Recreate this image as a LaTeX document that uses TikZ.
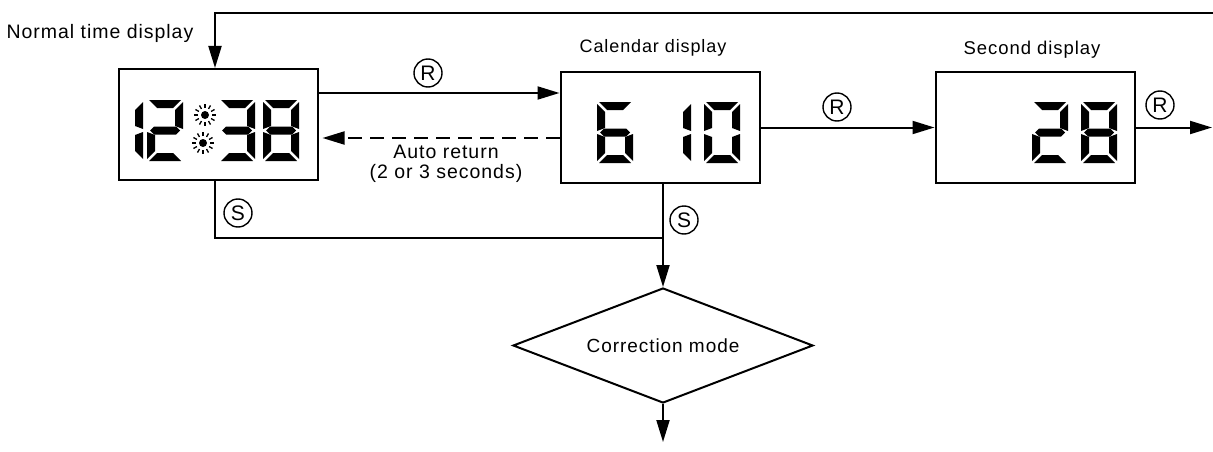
\documentclass[tikz,border=0pt]{standalone}
\usepackage{fontspec}
\setmainfont{Liberation Sans}[LetterSpace=5]
\usetikzlibrary{arrows.meta,shapes.geometric,calc}
\newcommand\sgA[2]{\fill (#1+2,#2) -- (#1+34,#2) -- (#1+26,#2+8) -- (#1+10,#2+8) -- cycle;}
\newcommand\sgD[2]{\fill (#1+2,#2+61) -- (#1+34,#2+61) -- (#1+26,#2+53) -- (#1+10,#2+53) -- cycle;}
\newcommand\sgG[2]{\fill (#1+3,#2+30.5) -- (#1+7,#2+26.5) -- (#1+29,#2+26.5) -- (#1+33,#2+30.5) -- (#1+29,#2+34.5) -- (#1+7,#2+34.5) -- cycle;}
\newcommand\sgF[2]{\fill (#1,#2+2) -- (#1+8,#2+10) -- (#1+8,#2+26) -- (#1,#2+29) -- cycle;}
\newcommand\sgB[2]{\fill (#1+36,#2+2) -- (#1+28,#2+10) -- (#1+28,#2+26) -- (#1+36,#2+29) -- cycle;}
\newcommand\sgE[2]{\fill (#1,#2+32) -- (#1+8,#2+35) -- (#1+8,#2+51) -- (#1,#2+59) -- cycle;}
\newcommand\sgC[2]{\fill (#1+36,#2+32) -- (#1+28,#2+35) -- (#1+28,#2+51) -- (#1+36,#2+59) -- cycle;}
\newcommand\segdigit[3]{\foreach \s in {#3}{\csname sg\s\endcsname{#1}{#2}}}
\newcommand\blinkdot[2]{\fill (#1,#2) circle (4);
  \foreach \a in {0,30,...,330}{\draw[line width=1.3pt] ($(#1,#2)+(\a:7)$) -- ($(#1,#2)+(\a:11)$);}}
\begin{document}
\begin{tikzpicture}[x=1pt,y=-1pt,
  every node/.style={font=\fontsize{18}{22}\selectfont},
  conn/.style={line width=2pt},
  arr/.style={conn,-{Triangle[length=22pt,width=13pt]}},
  disp/.style={draw,line width=2pt,minimum width=199pt,minimum height=111pt,inner sep=0pt},
  circ/.style={circle,draw,line width=1.4pt,inner sep=0pt,minimum size=28pt,font=\fontsize{21}{22}\selectfont}]
\useasboundingbox (0,0) rectangle (1213,452);
% boxes
\node[disp] (b1) at (218,124.5) {};
\node[disp] (cal) at (660,127.5) {};
\node[disp] (sec) at (1035,127.5) {};
\node[diamond,draw,line width=2pt,aspect=2.6,minimum width=300pt,minimum height=115pt,inner sep=0pt,font=\fontsize{19}{22}\selectfont] (cm) at (663,345.5) {Correction mode};
% labels
\node[anchor=west,font=\fontsize{19.5}{22}\selectfont] (lb1) at (3,33) {Normal time display};
\node (lcal) at (653,48) {Calendar display};
\node[font=\fontsize{18.5}{22}\selectfont] (lsec) at (1032,50) {Second display};
\node[align=center,font=\fontsize{19.5}{20}\selectfont] (auto) at (446,164) {Auto return\\(2 or 3 seconds)};
\node[circ] (r1) at (428,73) {R};
\node[circ] (r2) at (837,107) {R};
\node[circ] (r3) at (1160,105) {R};
\node[circ] (s1) at (238,213) {S};
\node[circ] (s2) at (684,220) {S};
% digits
\segdigit{107}{100}{B,C}
\segdigit{147}{100}{A,B,G,E,D}
\blinkdot{205}{115}
\blinkdot{203}{143}
\segdigit{219}{100}{A,B,G,C,D}
\segdigit{263}{100}{A,B,C,D,E,F,G}
\segdigit{597}{102}{A,F,G,E,D,C}
\segdigit{655}{102}{B,C}
\segdigit{704}{102}{A,B,C,D,E,F}
\segdigit{1032}{102}{A,B,G,E,D}
\segdigit{1081}{102}{A,B,C,D,E,F,G}
% coordinates
\coordinate (topR) at (1213,13);
\coordinate (topL) at (215,13);
\coordinate (out) at (1212,127.5);
\coordinate (j) at (663,238);
\coordinate (fin) at (663,442);
% connectors
\draw[arr] (topR) -- (topL) -- (topL |- b1.north);
\draw[arr] ([yshift=31.5pt]b1.east) -- ([yshift=31.5pt]b1.east -| cal.west);
\draw[arr,dash pattern=on 14pt off 8pt,shorten >=4pt] ([yshift=-10.5pt]cal.west) -- ([yshift=-10.5pt]cal.west -| b1.east);
\draw[arr] (cal.east) -- (sec.west);
\draw[arr] (sec.east) -- (out);
\draw[conn] (topL |- b1.south) |- (j);
\draw[arr] (cal.south -| cm.north) -- (cm.north);
\draw[arr] (cm.south) -- (fin);
\end{tikzpicture}
\end{document}
